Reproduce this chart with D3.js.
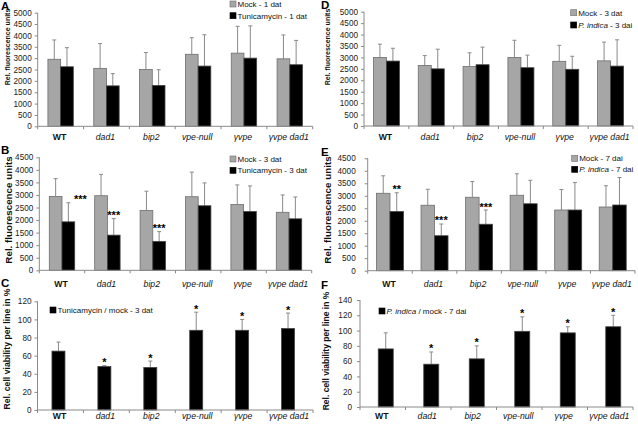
<!DOCTYPE html>
<html><head><meta charset="utf-8">
<script src="https://cdn.jsdelivr.net/npm/d3@7"></script>
<style>
body{margin:0;background:#fff;}
svg{display:block;font-family:"Liberation Sans",Arial,sans-serif;}
</style></head>
<body>
<svg id="chart" width="638" height="426"></svg>
<script>
// ---------- DATA ----------
const categories = ["WT","dad1","bip2","vpe-null","γvpe","γvpe dad1"];

// Panel A: Mock vs Tunicamycin, 1 dat
const mock1dat      = [2950,2550,2500,3170,3220,2970];
const mock1datSD    = [850,1090,750,730,1180,1050];
const tunica1dat    = [2620,1780,1800,2650,3000,2710];
const tunica1datSD  = [840,540,690,1380,1420,1070];

// Panel B: Mock vs Tunicamycin, 3 dat
const mock3dat      = [2940,2970,2380,2930,2620,2310];
const mock3datSD    = [710,850,770,980,780,690];
const tunica3dat    = [1930,1400,1150,2570,2340,2050];
const tunica3datSD  = [760,660,390,910,1020,870];
const starsB        = ["***","***","***","","",""];

// Panel C: Tunicamycin / mock, 3 dat (%)
const tunRatio      = [65,48,47,88,88,90];
const tunRatioSD    = [10,1,7,20,12,17];
const starsC        = ["","*","*","*","*","*"];

// Panel D: Mock vs P. indica, 3 dai
const mockD3        = [3000,2650,2600,3000,2830,2850];
const mockD3SD      = [580,430,600,750,700,820];
const pind3dai      = [2840,2500,2680,2550,2480,2620];
const pind3daiSD    = [560,860,770,550,570,1150];

// Panel E: Mock vs P. indica, 7 dai
const mock7dai      = [3100,2620,2940,3020,2430,2550];
const mock7daiSD    = [700,640,630,860,820,850];
const pind7dai      = [2370,1400,1860,2680,2430,2630];
const pind7daiSD    = [750,470,570,940,1100,1100];
const starsE        = ["**","***","***","","",""];

// Panel F: P. indica / mock, 7 dai (%)
const pindRatio     = [76,56,63,99,97,105];
const pindRatioSD   = [21,16,17,19,8,15];
const starsF        = ["","*","*","*","*","*"];

const yTicksFluo5000 = d3.range(0, 5001, 500);
const yTicksFluo4500 = d3.range(0, 4501, 500);
const yTicksPct120   = d3.range(0, 121, 20);
const yTicksPct140   = d3.range(0, 141, 20);

// ---------- DRAW ----------
const svg = d3.select("#chart");
const GRAY = "#a6a6a6", GRAY_STROKE = "#6e6e6e", AXIS = "#8a8a8a", ERR = "#8a8a8a";

function panel(cfg){
  const g = svg.append("g");
  const x = d3.scaleBand().domain(categories).range([cfg.left, cfg.right]).padding(0);
  const y = d3.scaleLinear().domain([0, cfg.max]).range([cfg.zero, cfg.top]);
  const bw = cfg.barW;
  const ns = cfg.series.length;

  // y axis
  const ya = g.append("g").attr("transform", `translate(${cfg.left},0)`)
    .call(d3.axisLeft(y).tickValues(cfg.ticks).tickSize(3).tickPadding(cfg.tickPad || 3).tickFormat(d3.format("d")));
  ya.select(".domain").attr("stroke", AXIS).attr("d", `M0,${cfg.zero}V${cfg.top}`);
  ya.selectAll(".tick line").attr("stroke", AXIS);
  ya.selectAll(".tick text").attr("fill", "#222").style("font-size", "8.2px").style("font-family", "'Liberation Sans',Arial,sans-serif");

  // bars + error bars
  cfg.series.forEach((s, si) => {
    const off = -ns * bw / 2 + si * bw;
    categories.forEach((c, i) => {
      const cx = x(c) + x.bandwidth() / 2 + off + (cfg.shift || 0);
      const v = s.values[i], e = s.sd[i];
      const ex = cx + bw / 2;
      g.append("line").attr("x1", ex).attr("x2", ex).attr("y1", y(v)).attr("y2", y(v + e))
        .attr("stroke", ERR).attr("stroke-width", 1);
      g.append("line").attr("x1", ex - 2).attr("x2", ex + 2).attr("y1", y(v + e)).attr("y2", y(v + e))
        .attr("stroke", ERR).attr("stroke-width", 1);
      g.append("rect").attr("x", cx).attr("y", y(v)).attr("width", bw).attr("height", y(0) - y(v))
        .attr("fill", s.color).attr("stroke", s.color === "#000" ? "#444" : GRAY_STROKE).attr("stroke-width", 0.8);
      if (s.stars && s.stars[i]) {
        g.append("text").attr("x", ex + (cfg.starDx ? cfg.starDx[i] : 0)).attr("y", y(v + e) + 0.5)
          .attr("text-anchor", "middle").style("font-size", "11px").style("font-weight", "bold")
          .text(s.stars[i]);
      }
    });
  });

  // x axis line and ticks
  g.append("line").attr("x1", cfg.left).attr("x2", cfg.right).attr("y1", cfg.zero).attr("y2", cfg.zero)
    .attr("stroke", AXIS);
  categories.concat([null]).forEach((c) => {
    const xx = c === null ? cfg.right : x(c);
    g.append("line").attr("x1", xx).attr("x2", xx).attr("y1", cfg.zero).attr("y2", cfg.zero + 3).attr("stroke", AXIS);
  });
  categories.forEach((c) => {
    g.append("text").attr("x", x(c) + x.bandwidth() / 2 - 1).attr("y", cfg.labelY)
      .attr("text-anchor", "middle").style("font-size", "8.7px")
      .style("font-style", c === "WT" ? "normal" : "italic")
      .style("font-weight", c === "WT" ? "bold" : "normal")
      .attr("fill", "#111").text(c);
  });

  // y title
  g.append("text").attr("transform", `translate(${cfg.titleX},${cfg.titleY}) rotate(-90)`)
    .attr("text-anchor", "middle").style("font-size", cfg.titleSize + "px").style("font-weight", "bold")
    .attr("fill", "#111").text(cfg.title);

  // panel letter
  g.append("text").attr("x", cfg.letterX).attr("y", cfg.letterY).style("font-size", "11.5px")
    .style("font-weight", "bold").text(cfg.letter);

  // legend
  cfg.series.forEach((s, si) => {
    const ly = cfg.legY + si * cfg.legStep;
    g.append("rect").attr("x", cfg.legX).attr("y", ly - 3).attr("width", 6).attr("height", 6)
      .attr("fill", s.color).attr("stroke", s.color === "#000" ? "#000" : GRAY_STROKE).attr("stroke-width", 0.6);
    const t = g.append("text").attr("x", cfg.legX + 7.5).attr("y", ly + 3).style("font-size", "8px").attr("fill", "#111");
    s.label.forEach(part => {
      t.append("tspan").style("font-style", part.it ? "italic" : "normal").text(part.t);
    });
  });
}

const fluoTitle = "Rel. fluorescence units";
const pctTitle = "Rel. cell viability per line in %";

panel({letter:"A", letterX:1, letterY:10, left:37.7, right:312.7, zero:126.3, top:12.7, max:5000,
  ticks:yTicksFluo5000, barW:12.7, labelY:140, title:fluoTitle, titleSize:7, titleX:10, titleY:47,
  legX:230, legY:4, legStep:11.7,
  series:[
    {values:mock1dat, sd:mock1datSD, color:GRAY, label:[{t:"Mock - 1 dat"}]},
    {values:tunica1dat, sd:tunica1datSD, color:"#000", label:[{t:"Tunicamycin - 1 dat"}]}
  ]});

panel({letter:"B", letterX:1, letterY:154, left:39.3, right:311.7, zero:270.3, top:157.3, max:4500,
  ticks:yTicksFluo4500, barW:12.7, labelY:286.5, title:fluoTitle, titleSize:9.8, titleX:11.5, titleY:210,
  legX:230, legY:159, legStep:11.3, starDx:[12,0,0,0,0,0],
  series:[
    {values:mock3dat, sd:mock3datSD, color:GRAY, label:[{t:"Mock - 3 dat"}]},
    {values:tunica3dat, sd:tunica3datSD, color:"#000", stars:starsB, label:[{t:"Tunicamycin - 3 dat"}]}
  ]});

panel({letter:"C", letterX:1, letterY:287, left:37.5, right:313, zero:410, top:301.3, max:120,
  ticks:yTicksPct120, barW:13, labelY:419, title:pctTitle, titleSize:8.7, titleX:9.5, titleY:349,
  legX:50, legY:310, legStep:0, shift:-2,
  series:[
    {values:tunRatio, sd:tunRatioSD, color:"#000", stars:starsC, label:[{t:"Tunicamycin / mock - 3 dat"}]}
  ]});

panel({letter:"D", letterX:321, letterY:9, left:364, right:633, zero:126, top:11.7, max:5000,
  ticks:yTicksFluo5000, barW:13, labelY:140, title:fluoTitle, titleSize:7, titleX:329.5, titleY:47,
  legX:570.7, legY:12.7, legStep:12.3,
  series:[
    {values:mockD3, sd:mockD3SD, color:GRAY, label:[{t:"Mock - 3 dat"}]},
    {values:pind3dai, sd:pind3daiSD, color:"#000", label:[{t:"P. indica", it:true},{t:" - 3 dai"}]}
  ]});

panel({letter:"E", letterX:321, letterY:155.7, left:367.7, right:635, zero:270.7, top:158.3, max:4500,
  ticks:yTicksFluo4500, barW:13.5, labelY:286.5, title:fluoTitle, titleSize:9.8, titleX:331, titleY:210, tickPad:9,
  legX:571.7, legY:158.3, legStep:11,
  series:[
    {values:mock7dai, sd:mock7daiSD, color:GRAY, label:[{t:"Mock - 7 dai"}]},
    {values:pind7dai, sd:pind7daiSD, color:"#000", stars:starsE, label:[{t:"P. indica", it:true},{t:" - 7 dai"}]}
  ]});

panel({letter:"F", letterX:321, letterY:288.7, left:360, right:633, zero:407, top:300, max:140,
  ticks:yTicksPct140, barW:15, labelY:419, title:pctTitle, titleSize:8.5, titleX:329, titleY:351, tickPad:5,
  legX:379, legY:311, legStep:0, shift:3,
  series:[
    {values:pindRatio, sd:pindRatioSD, color:"#000", stars:starsF, label:[{t:"P. indica", it:true},{t:" / mock - 7 dai"}]}
  ]});
</script>
</body></html>
